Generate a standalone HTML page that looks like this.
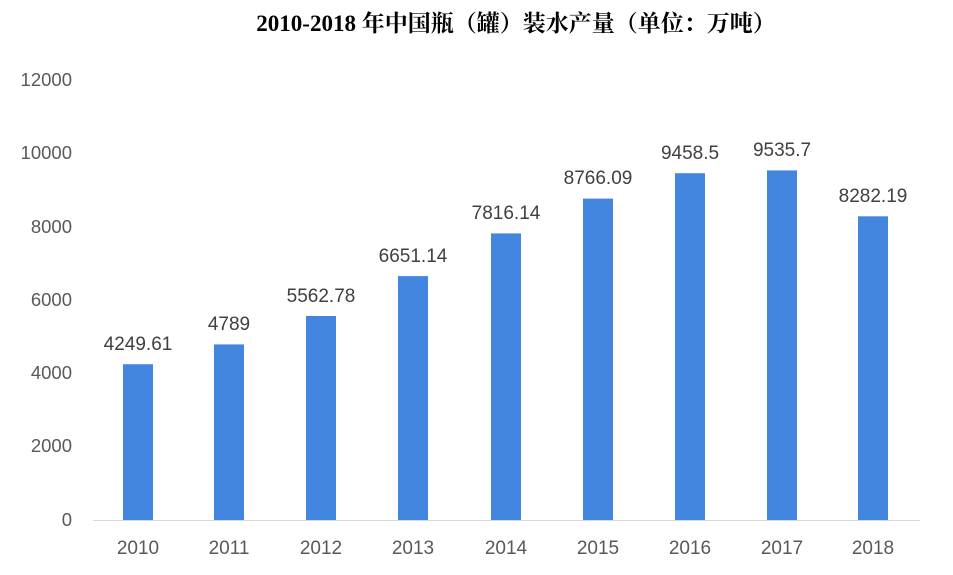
<!DOCTYPE html>
<html><head><meta charset="utf-8"><style>
body{margin:0;background:#fff;}
svg text{font-family:"Liberation Sans","Noto Sans CJK SC",sans-serif;}
</style></head><body>
<svg width="953" height="570" xmlns="http://www.w3.org/2000/svg">
<text x="516" y="31" text-anchor="middle" style="font-family:'Liberation Serif','Noto Serif CJK SC',serif;font-weight:bold;font-size:23px" fill="#000">2010-2018 年中国瓶（罐）装水产量（单位：万吨）</text>
<g fill="#595959" font-size="18.5" text-anchor="end">
<text x="72" y="86">12000</text>
<text x="72" y="159">10000</text>
<text x="72" y="233">8000</text>
<text x="72" y="306">6000</text>
<text x="72" y="379">4000</text>
<text x="72" y="452">2000</text>
<text x="72" y="526">0</text>
</g>
<line x1="93" y1="520.5" x2="920" y2="520.5" stroke="#d9d9d9" stroke-width="1"/>
<g fill="#4286e0">
<rect x="123" y="364.2" width="30" height="155.8"/>
<rect x="214" y="344.4" width="30" height="175.6"/>
<rect x="306" y="316" width="30" height="204"/>
<rect x="398" y="276.1" width="30" height="243.9"/>
<rect x="491" y="233.4" width="30" height="286.6"/>
<rect x="583" y="198.6" width="30" height="321.4"/>
<rect x="675" y="173.2" width="30" height="346.8"/>
<rect x="767" y="170.4" width="30" height="349.6"/>
<rect x="858" y="216.3" width="30" height="303.7"/>
</g>
<g fill="#404040" font-size="19" text-anchor="middle">
<text x="138" y="350">4249.61</text>
<text x="229" y="330">4789</text>
<text x="321" y="302">5562.78</text>
<text x="413" y="262">6651.14</text>
<text x="506" y="219">7816.14</text>
<text x="598" y="184">8766.09</text>
<text x="690" y="159">9458.5</text>
<text x="782" y="156">9535.7</text>
<text x="873" y="202">8282.19</text>
</g>
<g fill="#595959" font-size="19" text-anchor="middle">
<text x="138" y="554">2010</text>
<text x="229" y="554">2011</text>
<text x="321" y="554">2012</text>
<text x="413" y="554">2013</text>
<text x="506" y="554">2014</text>
<text x="598" y="554">2015</text>
<text x="690" y="554">2016</text>
<text x="782" y="554">2017</text>
<text x="873" y="554">2018</text>
</g>
</svg>
</body></html>
